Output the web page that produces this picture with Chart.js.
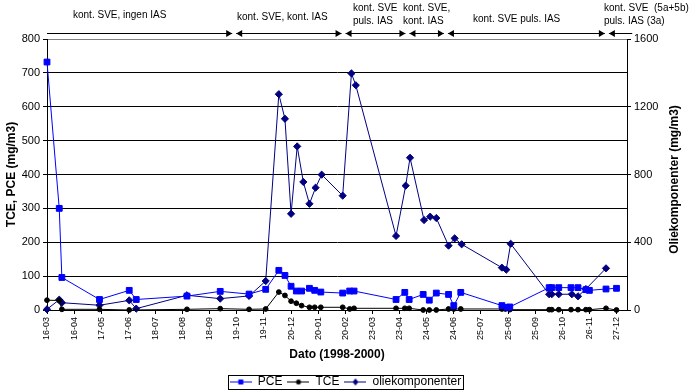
<!DOCTYPE html>
<html>
<head>
<meta charset="utf-8">
<script src="https://cdn.jsdelivr.net/npm/chart.js@4.4.1/dist/chart.umd.min.js"></script>
<style>
  html, body { margin: 0; padding: 0; background: #fff; }
  canvas { display: block; }
</style>
</head>
<body>
<canvas id="chart" width="691" height="392"></canvas>
<script>
// x values are days counted from 16-03-1998, one tick every 31 days
const xTickLabels = ['16-03', '16-04', '17-05', '17-06', '18-07', '18-08', '18-09', '19-10', '19-11', '20-12', '20-01',
  '20-02', '23-03', '23-04', '24-05', '24-06', '25-07', '25-08', '25-09', '26-10', '26-11', '27-12'];
const tickStepDays = 31;

const pceDays = [0, 14, 17, 60, 94, 102, 160, 198, 231, 250, 265, 272, 279, 285, 291, 300, 306, 313, 338, 346,
  351, 399, 409, 414, 430, 437, 445, 459, 465, 473, 520, 526, 529, 574, 577, 585, 599, 607, 616, 620, 639, 651];
const pceValues = [732, 300, 96, 31, 58, 31, 41, 55, 47, 61, 117, 102, 70, 56, 56, 64, 58, 53, 50, 56,
  56, 31, 52, 31, 46, 29, 50, 46, 13, 52, 13, 8, 9, 66, 66, 66, 66, 66, 60, 58, 62, 64];

const tceDays = [0, 14, 17, 60, 94, 160, 198, 231, 250, 265, 272, 279, 285, 291, 300, 306, 313, 338, 346, 351,
  399, 409, 414, 430, 437, 445, 459, 465, 473, 520, 524, 529, 574, 577, 585, 599, 607, 616, 620, 639, 651];
const tceValues = [29, 28, 2, 2, 0, 2, 4, 2, 3, 53, 43, 26, 20, 13, 8, 8, 8, 8, 3, 5,
  5, 5, 5, 0, 0, 0, 3, 3, 3, 3, 3, 1, 1, 1, 1, 1, 1, 1, 1, 5, 0];

// oliekomponenter, right axis
const olieDays = [0, 14, 17, 60, 94, 102, 160, 198, 231, 250, 265, 272, 279, 286, 293, 300, 307, 314, 338, 348,
  353, 399, 410, 415, 431, 438, 445, 459, 466, 474, 520, 525, 530, 574, 577, 585, 600, 607, 616, 639];
const olieValues = [4, 61, 43, 28, 57, 8, 87, 67, 83, 171, 1274, 1129, 568, 966, 756, 627, 722, 799, 675, 1397,
  1327, 437, 734, 899, 531, 551, 543, 380, 423, 388, 250, 238, 391, 93, 93, 93, 93, 81, 124, 246];

// operating phases shown above the plot
const phaseStartDays = [0, 214, 339, 412, 456, 640];
const phaseEndDay = 669;
const phaseLabels = [
  ['kont. SVE, ingen IAS'],
  ['kont. SVE, kont. IAS'],
  ['kont. SVE', 'puls. IAS'],
  ['kont. SVE,', 'kont. IAS'],
  ['kont. SVE puls. IAS'],
  ['kont. SVE  (5a+5b)', 'puls. IAS (3a)']
];

const FONT = '"Liberation Sans", Arial, sans-serif';
Chart.defaults.font.family = FONT;
Chart.defaults.color = '#000';

const toPoints = (days, vals) => days.map((d, i) => ({ x: d, y: vals[i] }));

function legendSample(color, style) {
  const c = document.createElement('canvas');
  c.width = 22; c.height = 9;
  const g = c.getContext('2d');
  g.strokeStyle = color; g.fillStyle = color; g.lineWidth = 1;
  g.beginPath(); g.moveTo(0, 4.5); g.lineTo(22, 4.5); g.stroke();
  g.beginPath();
  if (style === 'rect') g.rect(8.5, 2, 5, 5);
  else if (style === 'circle') g.arc(11, 4.5, 2.5, 0, Math.PI * 2);
  else { g.moveTo(11, 1); g.lineTo(14, 4.5); g.lineTo(11, 8); g.lineTo(8, 4.5); g.closePath(); }
  g.fill();
  return c;
}
const legendSamples = [legendSample('#0000ff', 'rect'), legendSample('#000000', 'circle'), legendSample('#000080', 'diamond')];

function arrowHead(ctx, tip, y, dir) {
  ctx.beginPath();
  ctx.moveTo(tip, y);
  ctx.lineTo(tip - dir * 6, y - 3.5);
  ctx.lineTo(tip - dir * 6, y + 3.5);
  ctx.closePath();
  ctx.fill();
}

const overlay = {
  id: 'overlay',
  afterDraw(chart, args, opts) {
    const { ctx, scales: { x }, chartArea } = chart;
    ctx.save();
    ctx.strokeStyle = '#000';
    ctx.fillStyle = '#000';
    ctx.lineWidth = 1;

    // phase arrows
    const yLine = 33;
    const last = phaseStartDays.length - 1;
    const bounds = phaseStartDays.concat(phaseEndDay).map(d => x.getPixelForValue(d));
    for (let i = 0; i <= last; i++) {
      const a = bounds[i] + (i > 0 ? 2 : 0);
      const b = bounds[i + 1] - (i < last ? 2 : 0);
      ctx.beginPath();
      ctx.moveTo(a, yLine + 0.5);
      ctx.lineTo(b, yLine + 0.5);
      ctx.stroke();
      if (i > 0) arrowHead(ctx, a, yLine + 0.5, -1);
      if (i < last) arrowHead(ctx, b, yLine + 0.5, 1);
    }

    // phase texts
    ctx.font = '10px ' + FONT;
    ctx.textAlign = 'left';
    ctx.textBaseline = 'alphabetic';
    phaseLabels.forEach((lines, i) => {
      const base = lines.length > 1 ? [10.5, 23.5] : [opts.singleBase[i]];
      lines.forEach((t, j) => ctx.fillText(t, opts.labelLeft[i], base[j]));
    });

    // right axis title, reads bottom to top
    ctx.font = 'bold 12px ' + FONT;
    ctx.textAlign = 'center';
    ctx.textBaseline = 'middle';
    ctx.translate(675, (chartArea.top + chartArea.bottom) / 2 + 5);
    ctx.rotate(-Math.PI / 2);
    ctx.fillText('Oliekomponenter (mg/m3)', 0, 0);
    ctx.setTransform(1, 0, 0, 1, 0, 0);

    // frame around legend
    const hb = chart.legend.legendHitBoxes;
    if (hb && hb.length) {
      const l = Math.min(...hb.map(h => h.left)) - 2;
      const r = Math.max(...hb.map(h => h.left + h.width)) + 2;
      const t = hb[0].top - 1;
      const btm = hb[0].top + hb[0].height + 1;
      ctx.strokeRect(Math.round(l) + 0.5, Math.round(t) + 0.5, Math.round(r - l), Math.round(btm - t));
    }
    ctx.restore();
  }
};

new Chart(document.getElementById('chart'), {
  type: 'line',
  data: {
    datasets: [
      {
        label: 'PCE',
        data: toPoints(pceDays, pceValues),
        borderColor: '#0000ff',
        backgroundColor: '#0000ff',
        borderWidth: 1,
        pointStyle: 'rect',
        pointRadius: 4.1,
        pointBorderWidth: 1,
        yAxisID: 'y',
        clip: false
      },
      {
        label: 'TCE',
        data: toPoints(tceDays, tceValues),
        borderColor: '#000000',
        backgroundColor: '#000000',
        borderWidth: 1,
        pointStyle: 'circle',
        pointRadius: 2.4,
        pointBorderWidth: 1,
        yAxisID: 'y',
        clip: false
      },
      {
        label: 'oliekomponenter',
        data: toPoints(olieDays, olieValues),
        borderColor: '#000080',
        backgroundColor: '#000080',
        borderWidth: 1,
        pointStyle: 'rectRot',
        pointRadius: 3.6,
        pointBorderWidth: 1,
        yAxisID: 'y1',
        clip: false
      }
    ]
  },
  options: {
    responsive: false,
    animation: false,
    events: [],
    layout: { padding: { top: 39, left: 0, right: 0, bottom: -6 } },
    elements: { line: { tension: 0, fill: false } },
    scales: {
      x: {
        type: 'linear',
        min: 0,
        max: 663,
        afterBuildTicks: s => { s.ticks = xTickLabels.map((_, i) => ({ value: i * tickStepDays })); },
        afterFit: s => { s.height = 61; },
        ticks: {
          autoSkip: false,
          minRotation: 90,
          maxRotation: 90,
          padding: 3,
          color: '#000',
          font: { size: 9 },
          callback: (v, i) => xTickLabels[i]
        },
        grid: { drawOnChartArea: false, tickLength: 4, color: '#000' },
        border: { color: '#000' },
        title: {
          display: true,
          text: 'Dato (1998-2000)',
          color: '#000',
          font: { size: 12, weight: 'bold' },
          padding: { top: 0, bottom: 9 }
        }
      },
      y: {
        position: 'left',
        min: 0,
        max: 800,
        afterFit: s => { s.width = 47; },
        ticks: { stepSize: 100, color: '#000', font: { size: 11 }, padding: 3, callback: v => String(v) },
        grid: {
          color: c => (c.tick && c.tick.value === 800 ? '#808080' : '#000'),
          tickColor: '#000',
          tickLength: 4
        },
        border: { color: '#000' },
        title: {
          display: true,
          text: 'TCE, PCE (mg/m3)',
          color: '#000',
          font: { size: 12, weight: 'bold' },
          padding: { top: 4, bottom: 0 }
        }
      },
      y1: {
        position: 'right',
        min: 0,
        max: 1600,
        afterFit: s => { s.width = 64; },
        ticks: { stepSize: 400, color: '#000', font: { size: 11 }, padding: 3, callback: v => String(v) },
        grid: { drawOnChartArea: false, tickLength: 4, color: '#000' },
        border: { color: '#000' }
      }
    },
    plugins: {
      tooltip: { enabled: false },
      legend: {
        position: 'bottom',
        labels: {
          usePointStyle: true,
          pointStyleWidth: 22,
          padding: 5,
          color: '#000',
          font: { size: 12 },
          generateLabels: chart => Chart.defaults.plugins.legend.labels.generateLabels(chart)
            .map((item, i) => Object.assign(item, { pointStyle: legendSamples[i] }))
        }
      },
      overlay: {
        labelLeft: [73, 237, 353, 403, 473, 604],
        singleBase: [18, 20, 0, 0, 22, 0]
      }
    }
  },
  plugins: [overlay]
});
</script>
</body>
</html>
